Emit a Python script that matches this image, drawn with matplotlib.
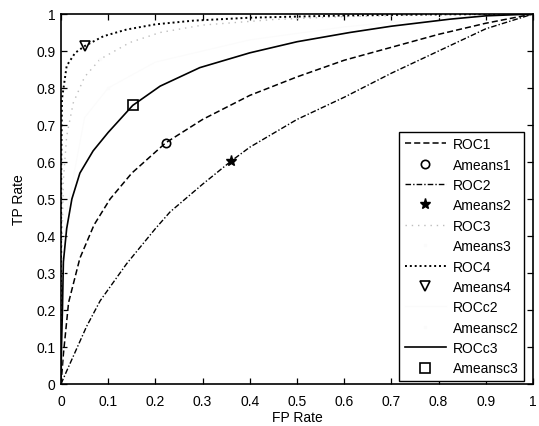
import matplotlib
matplotlib.use("Agg")
import matplotlib.pyplot as plt

plt.rcParams['font.family'] = ['Liberation Sans', 'DejaVu Sans']

# ---- data ----
roc1_fp = [0, 0.005, 0.016, 0.04, 0.07, 0.104, 0.15, 0.222, 0.3, 0.4, 0.5, 0.6, 0.7, 0.8, 0.9, 1.0]
roc1_tp = [0, 0.08, 0.22, 0.34, 0.43, 0.50, 0.57, 0.652, 0.715, 0.78, 0.83, 0.875, 0.91, 0.945, 0.975, 1.0]
ameans1 = (0.222, 0.652)

roc2_fp = [0, 0.012, 0.033, 0.054, 0.083, 0.139, 0.2, 0.231, 0.3, 0.36, 0.4, 0.5, 0.6, 0.7, 0.8, 0.9, 1.0]
roc2_tp = [0, 0.035, 0.095, 0.155, 0.225, 0.325, 0.42, 0.465, 0.54, 0.602, 0.64, 0.715, 0.775, 0.84, 0.9, 0.96, 1.0]
ameans2 = (0.36, 0.602)

roc3_fp = [0, 0.001, 0.005, 0.012, 0.026, 0.05, 0.083, 0.146, 0.21, 0.3, 0.45, 0.6, 0.8, 1.0]
roc3_tp = [0, 0.3, 0.55, 0.67, 0.76, 0.83, 0.878, 0.923, 0.95, 0.97, 0.985, 0.993, 0.998, 1.0]
ameans3 = (0.083, 0.878)

roc4_fp = [0, 0, 0.0005, 0.002, 0.012, 0.03, 0.051, 0.09, 0.139, 0.2, 0.28, 0.4, 0.6, 0.8, 1.0]
roc4_tp = [0, 0.3, 0.6, 0.77, 0.86, 0.895, 0.914, 0.94, 0.958, 0.972, 0.982, 0.99, 0.996, 0.999, 1.0]
ameans4 = (0.051, 0.914)

rocc2_fp = [0, 0.01, 0.05, 0.1, 0.2, 0.4, 0.6, 0.8, 1.0]
rocc2_tp = [0, 0.45, 0.72, 0.80, 0.87, 0.93, 0.965, 0.99, 1.0]
ameansc2 = (0.1, 0.80)

rocc3_fp = [0, 0.001, 0.003, 0.005, 0.012, 0.023, 0.04, 0.068, 0.1, 0.152, 0.21, 0.294, 0.4, 0.5, 0.612, 0.7, 0.824, 0.9, 1.0]
rocc3_tp = [0, 0.1, 0.2, 0.33, 0.42, 0.5, 0.57, 0.63, 0.68, 0.753, 0.805, 0.855, 0.895, 0.925, 0.95, 0.967, 0.986, 0.995, 1.0]
ameansc3 = (0.152, 0.753)

ticks = [0, 0.1, 0.2, 0.3, 0.4, 0.5, 0.6, 0.7, 0.8, 0.9, 1]
tick_labels = ['0', '0.1', '0.2', '0.3', '0.4', '0.5', '0.6', '0.7', '0.8', '0.9', '1']

# ---- figure ----
fig = plt.figure(figsize=(5.39, 4.27), dpi=100)
ax = fig.add_axes([0.1132, 0.0984, 0.8757, 0.8665])

k = 'black'
light = '#bdbdbd'
invisible = '#fbfbfb'

ax.plot(roc1_fp, roc1_tp, color=k, lw=1.1, ls=(0, (4, 2)), label='ROC1')
ax.plot(*ameans1, marker='o', ms=6, mfc='none', mec=k, mew=1.2, ls='none', label='Ameans1')
ax.plot(roc2_fp, roc2_tp, color=k, lw=1.0, ls=(0, (4, 1.5, 1, 1.5)), label='ROC2')
ax.plot(*ameans2, marker='*', ms=8, mfc=k, mec=k, ls='none', label='Ameans2')
ax.plot(roc3_fp, roc3_tp, color=light, lw=1.0, ls=(0, (1, 3.5)), label='ROC3')
ax.plot(*ameans3, marker='.', ms=3, color=invisible, ls='none', label='Ameans3')
ax.plot(roc4_fp, roc4_tp, color=k, lw=1.4, ls=(0, (1, 1.5)), label='ROC4')
ax.plot(*ameans4, marker='v', ms=7, mfc='none', mec=k, mew=1.2, ls='none', label='Ameans4')
ax.plot(rocc2_fp, rocc2_tp, color=invisible, lw=0.8, label='ROCc2')
ax.plot(*ameansc2, marker='.', ms=3, color=invisible, ls='none', label='Ameansc2')
ax.plot(rocc3_fp, rocc3_tp, color=k, lw=1.2, ls='-', label='ROCc3')
ax.plot(*ameansc3, marker='s', ms=7, mfc='none', mec=k, mew=1.2, ls='none', label='Ameansc3')

ax.set_xlim(0, 1)
ax.set_ylim(0, 1)
ax.set_xticks(ticks)
ax.set_xticklabels(tick_labels)
ax.set_yticks(ticks)
ax.set_yticklabels(tick_labels)
ax.tick_params(direction='in', length=4, width=0.9, top=True, right=True, labelsize=10)
ax.tick_params(axis='x', pad=7)
ax.tick_params(axis='y', pad=4)
for s in ax.spines.values():
    s.set_linewidth(1.2)
ax.set_xlabel('FP Rate', fontsize=10, labelpad=2)
ax.set_ylabel('TP Rate', fontsize=10, labelpad=7)

leg = ax.legend(loc='lower right', bbox_to_anchor=(0.981, 0.008), borderaxespad=0,
                fontsize=10, handlelength=2.95, handletextpad=0.5, labelspacing=0.46,
                fancybox=False, framealpha=1, edgecolor=k, borderpad=0.4)
leg.get_frame().set_linewidth(1.0)

fig.savefig('out.png', dpi=100)
